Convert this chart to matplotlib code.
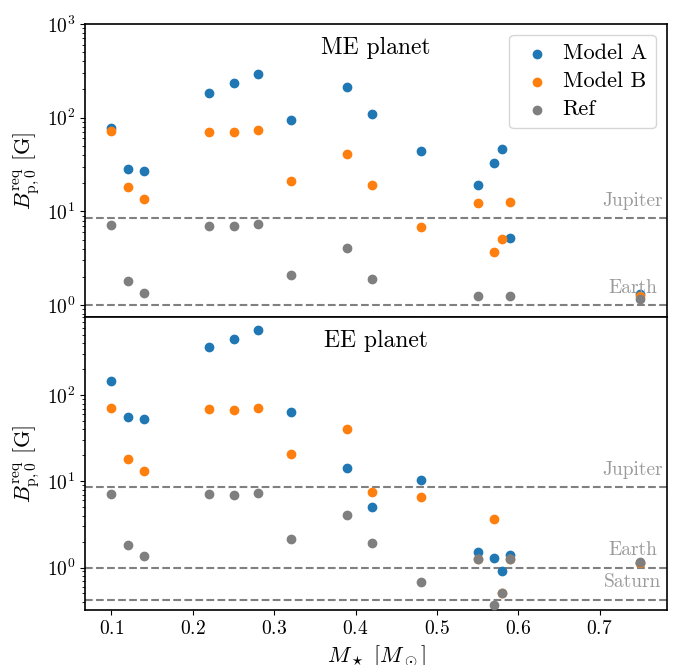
import matplotlib
matplotlib.use("Agg")
import matplotlib.pyplot as plt
import numpy as np

plt.rcParams["font.family"] = "serif"
plt.rcParams["font.serif"] = ["cmr10"]
plt.rcParams["mathtext.fontset"] = "cm"
plt.rcParams["axes.formatter.use_mathtext"] = True
plt.rcParams["axes.linewidth"] = 1.2

# stellar masses [M_sun]
mstar = [0.10, 0.12, 0.14, 0.22, 0.25, 0.28, 0.32, 0.39, 0.42, 0.48,
         0.55, 0.57, 0.58, 0.59, 0.75]

# required polar field, ME planet [G]
me_a = [76.7, 28.3, 26.9, 185, 235, 293, 93.4, 215, 109, 44.3,
        19.2, 33.0, 46.5, 5.17, 1.32]
me_b = [71.8, 18.3, 13.5, 70.6, 69.6, 73.6, 21.1, 41.2, 19.1, 6.77,
        12.4, 3.70, 5.12, 12.5, 1.24]

# required polar field, EE planet [G]
ee_a = [146.6, 55.6, 52.6, 363, 454, 567, 64.5, 14.2, 5.10, 10.3,
        1.52, 1.30, 0.90, 1.40, 1.14]
ee_b = [70.7, 18.1, 13.3, 69.3, 68.1, 71.8, 20.8, 40.6, 7.55, 6.66,
        1.24, 3.67, 0.51, 1.24, 1.14]

# reference values (same for both planets)
ref = [7.15, 1.83, 1.36, 7.04, 6.94, 7.29, 2.12, 4.12, 1.91, 0.67,
       1.25, 0.372, 0.51, 1.25, 1.15]

# solar system planets
planet_names = ["Jupiter", "Earth", "Saturn"]
planet_field = [8.5, 1.0, 0.42]

fig, (ax1, ax2) = plt.subplots(2, 1, sharex=True, figsize=(6.75, 6.65), dpi=100)
fig.subplots_adjust(left=0.126, right=0.988, top=0.964, bottom=0.083, hspace=0)

panels = [(ax1, me_a, me_b, "ME planet", (0.75, 1000), planet_names[:2]),
          (ax2, ee_a, ee_b, "EE planet", (0.323, 810), planet_names)]

for ax, a, b, title, ylim, shown in panels:
    ax.scatter(mstar, a, color="tab:blue", label="Model A", zorder=3)
    ax.scatter(mstar, b, color="tab:orange", label="Model B", zorder=3)
    ax.scatter(mstar, ref, color="tab:gray", label="Ref", zorder=3)
    for name, val in zip(planet_names, planet_field):
        if name not in shown:
            continue
        ax.axhline(val, color="gray", ls="--", lw=1.5, zorder=1)
        ax.annotate(name, (0.74, val), xytext=(0, 9), textcoords="offset points",
                    ha="center", va="baseline", fontsize=14, color="#9a9a9a")
    ax.set_yscale("log")
    ax.set_ylim(*ylim)
    ax.text(0.5, 0.955, title, transform=ax.transAxes, ha="center", va="top",
            fontsize=17)
    ax.set_ylabel(r"$B_{\rm p,0}^{\rm req}$ [G]", fontsize=16)
    ax.tick_params(labelsize=14)

ax1.legend(loc="upper right", fontsize=16, handlelength=1.7,
           handletextpad=0.3, labelspacing=0.38)
ax2.set_xlabel(r"$M_\star$ [$M_\odot$]", fontsize=16)
ax2.set_xticks([0.1, 0.2, 0.3, 0.4, 0.5, 0.6, 0.7])

fig.savefig("out.png", dpi=100)
